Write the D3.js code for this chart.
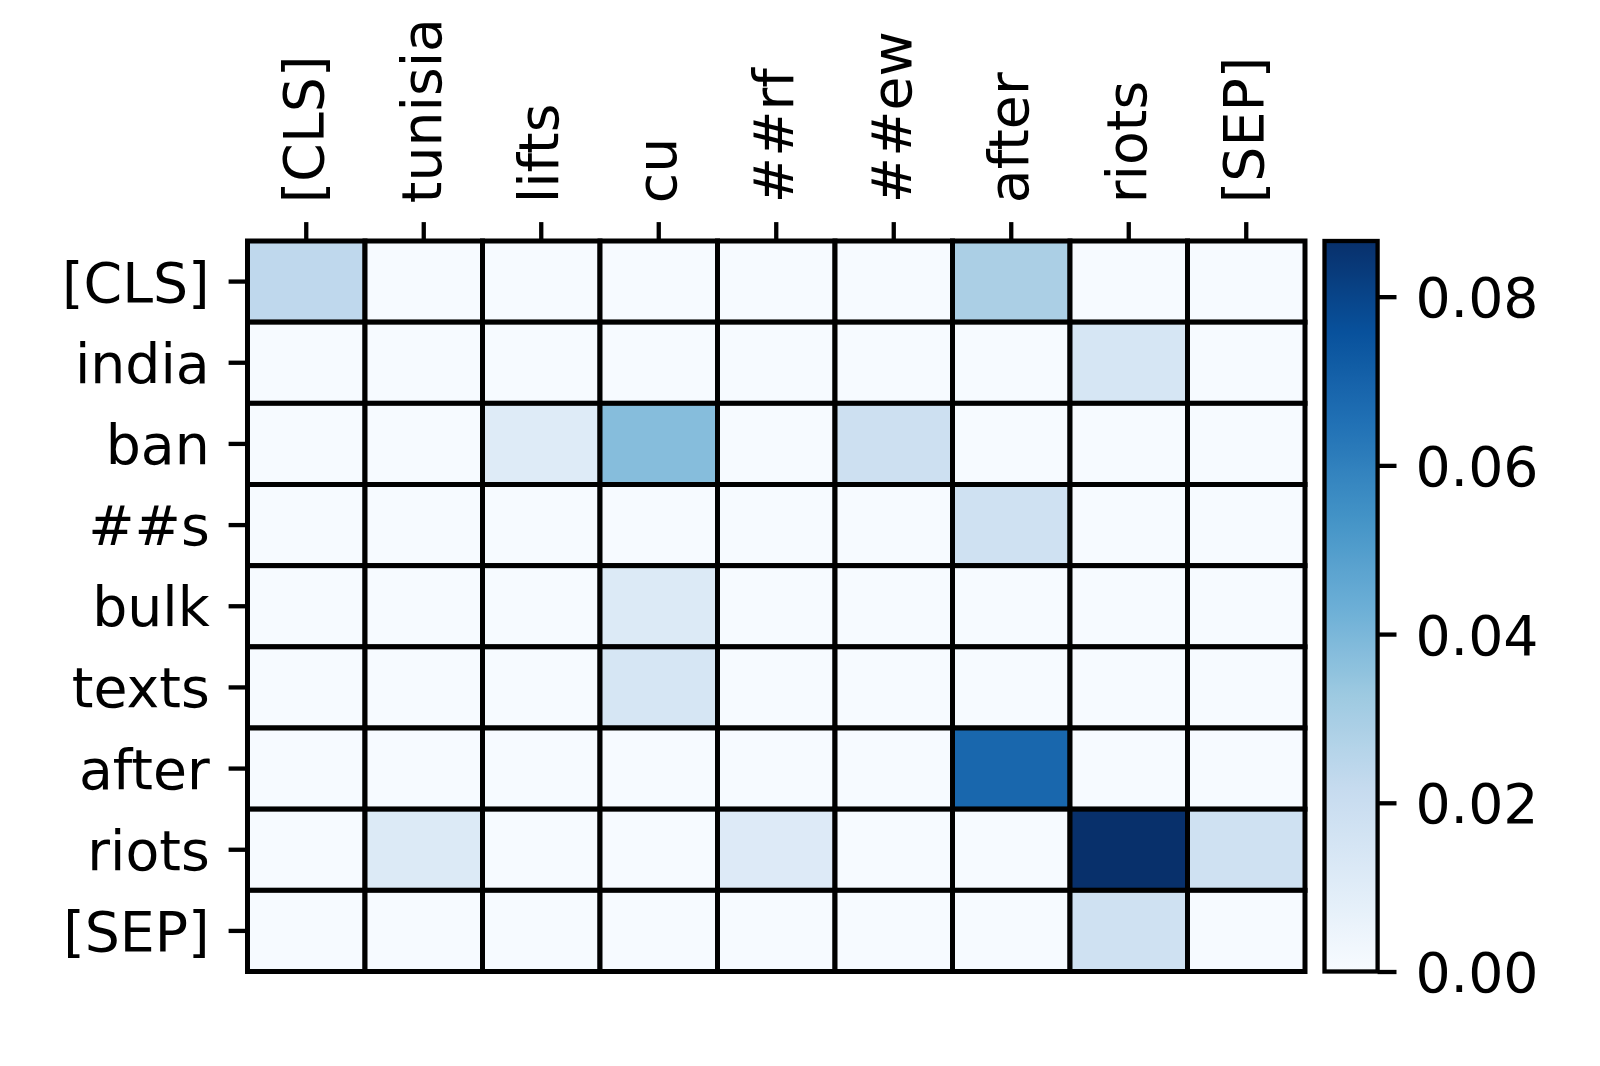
<!DOCTYPE html>
<html>
<head>
<meta charset="utf-8">
<script src="https://cdn.jsdelivr.net/npm/d3@7"></script>
<style>
  html, body { margin: 0; padding: 0; background: #ffffff; }
  svg { display: block; }
  text { font-family: "DejaVu Sans", sans-serif; fill: #000; }
</style>
</head>
<body>
<svg id="chart" width="1600" height="1066"></svg>
<script>
// ---- data ----
const xLabels = ["[CLS]", "tunisia", "lifts", "cu", "##rf", "##ew", "after", "riots", "[SEP]"];
const yLabels = ["[CLS]", "india", "ban", "##s", "bulk", "texts", "after", "riots", "[SEP]"];
const values = [
  [0.0235, 0.0004, 0.0004, 0.0004, 0.0004, 0.0004, 0.0290, 0.0004, 0.0004],
  [0.0004, 0.0004, 0.0004, 0.0004, 0.0004, 0.0004, 0.0004, 0.0145, 0.0004],
  [0.0004, 0.0004, 0.0110, 0.0375, 0.0004, 0.0185, 0.0004, 0.0004, 0.0004],
  [0.0004, 0.0004, 0.0004, 0.0004, 0.0004, 0.0004, 0.0175, 0.0004, 0.0004],
  [0.0004, 0.0004, 0.0004, 0.0118, 0.0004, 0.0004, 0.0004, 0.0004, 0.0004],
  [0.0004, 0.0004, 0.0004, 0.0143, 0.0004, 0.0004, 0.0004, 0.0004, 0.0004],
  [0.0004, 0.0004, 0.0004, 0.0004, 0.0004, 0.0004, 0.0685, 0.0004, 0.0004],
  [0.0004, 0.0118, 0.0004, 0.0004, 0.0112, 0.0004, 0.0004, 0.0866, 0.0175],
  [0.0004, 0.0004, 0.0004, 0.0004, 0.0004, 0.0004, 0.0004, 0.0175, 0.0004]
];
const colorbarTicks = [0, 0.02, 0.04, 0.06, 0.08];
const blues = ["#f7fbff", "#deebf7", "#c6dbef", "#9ecae1", "#6baed6", "#4292c6", "#2171b5", "#08519c", "#08306b"];

// ---- layout ----
const svg = d3.select("#chart");
const plotL = 247.5, plotR = 1305, plotT = 241, plotB = 971.5;
const fontPx = 55.3;
const tickLen = 18.9, tickPad = 18.9, tickW = 4.3;

const vmin = 0, vmax = d3.max(values.flat());

const x = d3.scaleBand().domain(xLabels).range([plotL, plotR]).padding(0);
const y = d3.scaleBand().domain(yLabels).range([plotT, plotB]).padding(0);

const cmapPos = d3.scaleLinear().domain(d3.range(blues.length).map(i => i / (blues.length - 1))).range(blues)
  .interpolate(d3.interpolateRgb).clamp(true);
const color = v => cmapPos((v - vmin) / (vmax - vmin));

// cells
const cells = [];
values.forEach((row, i) => row.forEach((v, j) => cells.push({ r: yLabels[i], c: xLabels[j], v })));
svg.append("g").selectAll("rect").data(cells).join("rect")
  .attr("x", d => x(d.c))
  .attr("y", d => y(d.r))
  .attr("width", x.bandwidth())
  .attr("height", y.bandwidth())
  .attr("fill", d => color(d.v))
  .attr("stroke", "#000")
  .attr("stroke-width", 5);

// top axis (rotated labels)
const xAxis = d3.axisTop(x).tickSize(tickLen).tickPadding(tickPad);
const gx = svg.append("g").attr("transform", `translate(0,${plotT})`).call(xAxis);
gx.select(".domain").remove();
gx.selectAll(".tick line").attr("stroke", "#000").attr("stroke-width", tickW);
gx.selectAll(".tick text")
  .attr("font-size", fontPx)
  .attr("font-family", "DejaVu Sans")
  .attr("fill", "#000")
  .attr("text-anchor", "start")
  .attr("transform", `translate(0,${-(tickLen + tickPad)}) rotate(-90)`)
  .attr("x", 0).attr("y", 0).attr("dy", "0.31em");

// left axis
const yAxis = d3.axisLeft(y).tickSize(tickLen).tickPadding(tickPad);
const gy = svg.append("g").attr("transform", `translate(${plotL},0)`).call(yAxis);
gy.select(".domain").remove();
gy.selectAll(".tick line").attr("stroke", "#000").attr("stroke-width", tickW);
gy.selectAll(".tick text")
  .attr("font-size", fontPx)
  .attr("font-family", "DejaVu Sans")
  .attr("fill", "#000")
  .attr("dy", "0.36em");

// colorbar
const cbLeft = 1324.5, cbRight = 1377.6;
const cbScale = d3.scaleLinear().domain([vmin, vmax]).range([plotB, plotT]);
const defs = svg.append("defs");
const grad = defs.append("linearGradient").attr("id", "cbgrad")
  .attr("x1", 0).attr("y1", 1).attr("x2", 0).attr("y2", 0);
d3.range(0, 1.0001, 1 / 64).forEach(t => {
  grad.append("stop").attr("offset", t).attr("stop-color", cmapPos(t));
});
svg.append("rect")
  .attr("x", cbLeft).attr("y", cbScale(vmax))
  .attr("width", cbRight - cbLeft).attr("height", cbScale(vmin) - cbScale(vmax))
  .attr("fill", "url(#cbgrad)");
const cbAxis = d3.axisRight(cbScale).tickValues(colorbarTicks).tickFormat(d3.format(".2f"))
  .tickSize(tickLen).tickPadding(tickPad);
const gc = svg.append("g").attr("transform", `translate(${cbRight},0)`).call(cbAxis);
gc.select(".domain").remove();
gc.selectAll(".tick line").attr("stroke", "#000").attr("stroke-width", tickW);
gc.selectAll(".tick text")
  .attr("font-size", fontPx)
  .attr("font-family", "DejaVu Sans")
  .attr("fill", "#000")
  .attr("dy", "0.36em");
svg.append("rect")
  .attr("x", cbLeft).attr("y", cbScale(vmax))
  .attr("width", cbRight - cbLeft).attr("height", cbScale(vmin) - cbScale(vmax))
  .attr("fill", "none").attr("stroke", "#000").attr("stroke-width", 4.3);
</script>
</body>
</html>
